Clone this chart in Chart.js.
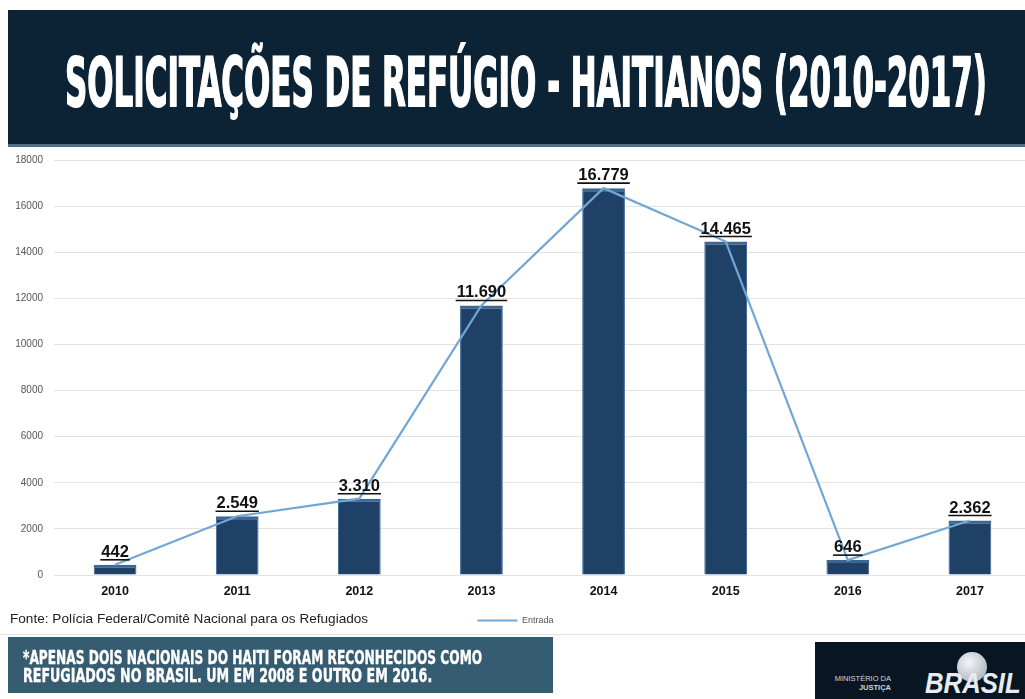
<!DOCTYPE html>
<html>
<head>
<meta charset="utf-8">
<script src="https://cdn.jsdelivr.net/npm/chart.js@4"></script>
<style>
  html, body { margin: 0; padding: 0; background: #fff; width: 1025px; height: 699px; overflow: hidden; position: relative; font-family: "Liberation Sans", Arial, sans-serif; }
  #header { position: absolute; left: 8px; top: 10px; width: 1017px; height: 134px; background: #0c2335; border-bottom: 3px solid #4f7189; }
  #title { position: absolute; left: 0; top: 0; white-space: nowrap; color: #fff; font-family: "Liberation Sans Narrow", "DejaVu Sans Condensed", sans-serif; font-weight: bold; font-size: 62px; transform-origin: 0 0; -webkit-text-stroke: 1.6px #fff; }
  #chartBox { position: absolute; left: 0; top: 143px; width: 1040px; height: 492px; }
  #source { position: absolute; left: 10px; top: 611px; font-size: 13.6px; color: #222; }
  #rule { position: absolute; left: 0; top: 634px; width: 1025px; height: 1px; background: #e2e2e2; }
  #note { position: absolute; left: 8px; top: 637px; width: 545px; height: 56px; background: #365c71; }
  .noteLine { position: absolute; left: 15px; white-space: nowrap; color: #fff; font-family: "Liberation Sans Narrow", "DejaVu Sans Condensed", sans-serif; font-weight: bold; font-size: 20px; transform-origin: 0 0; -webkit-text-stroke: 0.4px #fff; }
  #logo { position: absolute; left: 815px; top: 642px; width: 210px; height: 57px; background: #071622; overflow: hidden; }
  #logo .min { position: absolute; left: 0px; top: 32px; font-size: 7.5px; color: #cfd6dc; line-height: 9px; text-align: right; width: 76px; }
  #logo .globe { position: absolute; left: 142px; top: 10px; width: 30px; height: 30px; border-radius: 50%; background: radial-gradient(circle at 40% 35%, #f4f6f8, #9aa6b0); }
  #logo .brasil { position: absolute; left: 110px; top: 24px; font-size: 30px; font-weight: bold; font-style: italic; color: #e8ecef; white-space: nowrap; transform-origin: 0 0; }
</style>
</head>
<body>
<div id="header"><div id="title">SOLICITAÇÕES DE REFÚGIO - HAITIANOS (2010-2017)</div></div>
<div id="chartBox"><canvas id="chart"></canvas></div>
<div id="source">Fonte: Polícia Federal/Comitê Nacional para os Refugiados</div>
<div id="rule"></div>
<div id="note">
  <div class="noteLine" id="n1" style="top:8px">*APENAS DOIS NACIONAIS DO HAITI FORAM RECONHECIDOS COMO</div>
  <div class="noteLine" id="n2" style="top:26px">REFUGIADOS NO BRASIL. UM EM 2008 E OUTRO EM 2016.</div>
</div>
<div id="logo">
  <div class="min">MINISTÉRIO DA<br><b>JUSTIÇA</b></div>
  <div class="globe"></div>
  <div class="brasil" id="brasil">BRASIL</div>
</div>
<script>
// data
var years = ['2010', '2011', '2012', '2013', '2014', '2015', '2016', '2017'];
var pedidos = [442, 2549, 3310, 11690, 16779, 14465, 646, 2362];
var yTicks = [0, 2000, 4000, 6000, 8000, 10000, 12000, 14000, 16000, 18000];

// squeeze the condensed headings to the widths seen in the picture
function fitWidth(id, w, h) {
  var el = document.getElementById(id);
  var sx = w / el.scrollWidth;
  var sy = h ? h / el.offsetHeight : 1;
  el.style.transform = 'scale(' + sx + ',' + sy + ')';
}
(function() {
  var t = document.getElementById('title');
  t.style.left = '57px';
  t.style.top = '32px';
  fitWidth('title', 922, 1.1 * t.offsetHeight);
  fitWidth('n1', 459);
  fitWidth('n2', 409);
  fitWidth('brasil', 96);
})();

function fmt(v) {
  return String(v).replace(/\B(?=(\d{3})+(?!\d))/g, '.');
}

// value labels: bold, underlined, above each bar
var valueLabels = {
  id: 'valueLabels',
  afterDatasetsDraw: function(chart) {
    var ctx = chart.ctx;
    var meta = chart.getDatasetMeta(0);
    ctx.save();
    ctx.font = 'bold 16.5px "Liberation Sans", Arial, sans-serif';
    ctx.fillStyle = '#111';
    ctx.strokeStyle = '#111';
    ctx.lineWidth = 1.6;
    ctx.textAlign = 'center';
    ctx.textBaseline = 'alphabetic';
    meta.data.forEach(function(bar, i) {
      var txt = fmt(pedidos[i]);
      var y = bar.y - 8;
      ctx.fillText(txt, bar.x, y);
      var w = ctx.measureText(txt).width;
      ctx.beginPath();
      ctx.moveTo(bar.x - w / 2 - 1, y + 3);
      ctx.lineTo(bar.x + w / 2 + 1, y + 3);
      ctx.stroke();
    });
    ctx.restore();
  }
};

var ctx = document.getElementById('chart').getContext('2d');

new Chart(ctx, {
  type: 'bar',
  data: {
    labels: years,
    datasets: [{
      type: 'bar',
      label: 'Pedidos',
      data: pedidos,
      backgroundColor: '#1f4167',
      borderColor: '#3d6791',
      borderWidth: { top: 3, left: 1, right: 1, bottom: 0 },
      borderSkipped: false,
      barPercentage: 0.35,
      categoryPercentage: 1,
      order: 2
    }, {
      type: 'line',
      label: 'Entrada',
      data: pedidos,
      borderColor: '#71a7d6',
      backgroundColor: '#71a7d6',
      borderWidth: 2.2,
      pointRadius: 0,
      tension: 0,
      order: 1
    }]
  },
  options: {
    responsive: true,
    maintainAspectRatio: false,
    animation: false,
    layout: { padding: { top: 0, left: 0, right: 9, bottom: 0 } },
    plugins: {
      tooltip: { enabled: false },
      legend: {
        display: true,
        position: 'bottom',
        labels: {
          filter: function(item) { return item.text === 'Entrada'; },
          usePointStyle: true,
          pointStyle: 'line',
          pointStyleWidth: 40,
          boxWidth: 40,
          padding: 12,
          color: '#555',
          font: { size: 9, family: '"Liberation Sans Narrow", Arial, sans-serif' }
        }
      }
    },
    scales: {
      x: {
        afterFit: function(axis) { axis.height = 29; },
        grid: { display: false, drawTicks: false },
        border: { display: false },
        ticks: { color: '#111', font: { size: 12.5, weight: 'bold', family: '"Liberation Sans", Arial, sans-serif' }, padding: 9 }
      },
      y: {
        min: 0,
        max: 18000,
        afterBuildTicks: function(axis) { axis.ticks = yTicks.map(function(v) { return { value: v }; }); },
        afterFit: function(axis) { axis.width = 54; },
        grid: { color: '#e3e3e3', lineWidth: 1, drawTicks: false },
        border: { display: false },
        ticks: {
          color: '#555',
          font: { size: 10, family: '"Liberation Sans", Arial, sans-serif' },
          padding: 11,
          callback: function(v) { return String(v); }
        }
      }
    }
  },
  plugins: [valueLabels]
});
</script>
</body>
</html>
